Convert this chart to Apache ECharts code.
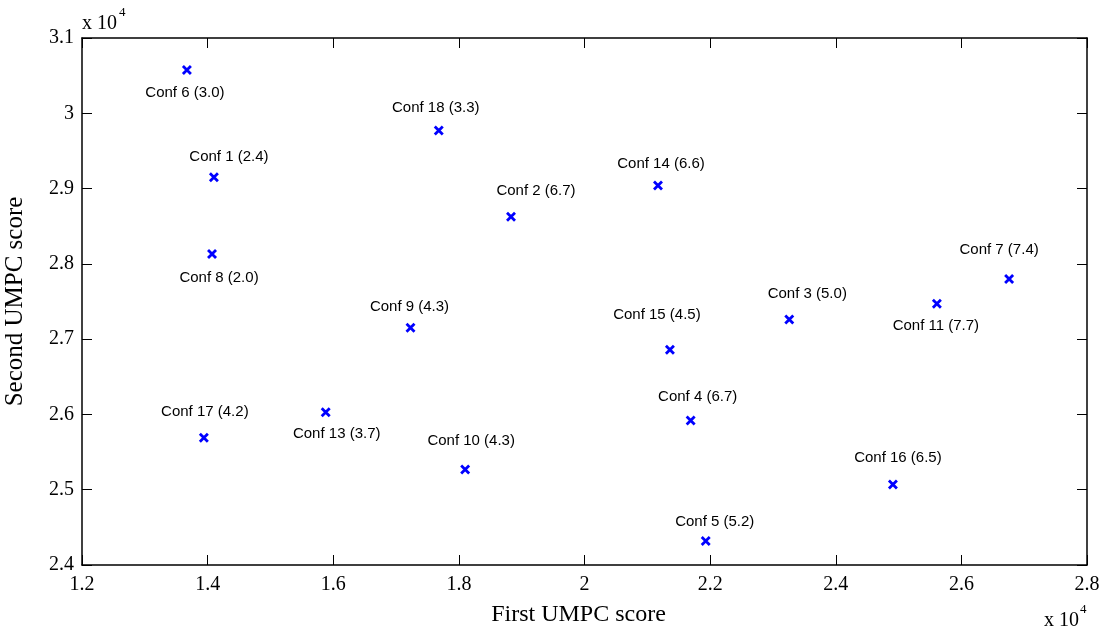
<!DOCTYPE html>
<html>
<head>
<meta charset="utf-8">
<script src="https://cdn.jsdelivr.net/npm/echarts@6/dist/echarts.min.js"></script>
<style>html,body{margin:0;padding:0;background:#fff}#c{width:1109px;height:634px}</style>
</head>
<body>
<div id="c"></div>
<script>
// Data (scores in raw units; axes show them as x 10^4)
const confNames = ['Conf 1','Conf 2','Conf 3','Conf 4','Conf 5','Conf 6','Conf 7','Conf 8','Conf 9','Conf 10','Conf 11','Conf 13','Conf 14','Conf 15','Conf 16','Conf 17','Conf 18'];
const confRatings = ['2.4','6.7','5.0','6.7','5.2','3.0','7.4','2.0','4.3','4.3','7.7','3.7','6.6','4.5','6.5','4.2','3.3'];
const firstScores = [14100,18830,23260,21690,21930,13670,26760,14070,17230,18100,25610,15880,21170,21360,24910,13940,17680];
const secondScores = [29150,28625,27260,25920,24320,30575,27800,28130,27150,25270,27470,26030,29040,26860,25070,25690,29770];
const xTicks = {min:12000, max:28000, step:2000};
const yTicks = {min:24000, max:31000, step:1000};

// Layout only: label offsets (px) relative to each marker
const labelOffsets = [[15,-20],[25,-26],[18,-26],[7,-24],[9,-19],[-2,23],[-10,-29],[7,24],[-1,-21],[6,-29],[-1,22],[11,22],[3,-22],[-13,-35],[5,-27],[1,-26],[-3,-23]];

const chart = echarts.init(document.getElementById('c'), null, {renderer:'canvas'});
const serif = '"Liberation Serif","DejaVu Serif",serif';
const sans = '"Liberation Sans",Arial,sans-serif';
const fmt = v => String(Math.round(v/100)/100);

const data = confNames.map((n,i)=>({
  value:[firstScores[i], secondScores[i]],
  name:n,
  label:{offset:labelOffsets[i]}
}));

const axisCommon = {
  axisLine:{show:true, lineStyle:{color:'#000', width:1.5}},
  axisTick:{show:true, inside:true, length:10, lineStyle:{color:'#000', width:1}},
  splitLine:{show:false}
};

chart.setOption({
  animation:false,
  backgroundColor:'#fff',
  grid:{left:82, top:38, right:22, bottom:69, containLabel:false, outerBoundsMode:'none'},
  xAxis:[
    Object.assign({type:'value', position:'bottom', min:xTicks.min, max:xTicks.max, interval:xTicks.step,
      axisLabel:{formatter:fmt, color:'#000', fontFamily:serif, fontSize:20, margin:10},
      name:'First UMPC score', nameLocation:'middle', nameGap:38,
      nameTextStyle:{fontFamily:serif, fontSize:24, color:'#000', padding:[0,12,0,0]}}, axisCommon),
    Object.assign({type:'value', position:'top', min:xTicks.min, max:xTicks.max, interval:xTicks.step,
      axisLabel:{show:false}}, axisCommon)
  ],
  yAxis:[
    Object.assign({type:'value', position:'left', min:yTicks.min, max:yTicks.max, interval:yTicks.step,
      axisLabel:{formatter:fmt, color:'#000', fontFamily:serif, fontSize:20, margin:8},
      name:'Second UMPC score', nameLocation:'middle', nameGap:54, nameRotate:90,
      nameTextStyle:{fontFamily:serif, fontSize:25, color:'#000'}}, axisCommon),
    Object.assign({type:'value', position:'right', min:yTicks.min, max:yTicks.max, interval:yTicks.step,
      axisLabel:{show:false}}, axisCommon)
  ],
  graphic:[
    {type:'text', left:82, top:14, style:{text:'x 10', font:'20px '+serif, fill:'#000'}},
    {type:'text', left:119, top:6, style:{text:'4', font:'13px '+serif, fill:'#000'}},
    {type:'text', left:1044, top:611, style:{text:'x 10', font:'20px '+serif, fill:'#000'}},
    {type:'text', left:1080, top:603, style:{text:'4', font:'13px '+serif, fill:'#000'}}
  ],
  series:[{
    type:'scatter',
    data:data,
    symbol:'path://M0,0L10,10M10,0L0,10',
    symbolSize:8,
    itemStyle:{color:'#0000ff', borderColor:'#0000ff', borderWidth:2.8, opacity:1},
    label:{show:true, position:'inside', formatter:p=>p.name+' ('+confRatings[p.dataIndex]+')',
      color:'#000', opacity:1, fontFamily:sans, fontSize:15},
    emphasis:{disabled:true}
  }]
});
</script>
</body>
</html>
